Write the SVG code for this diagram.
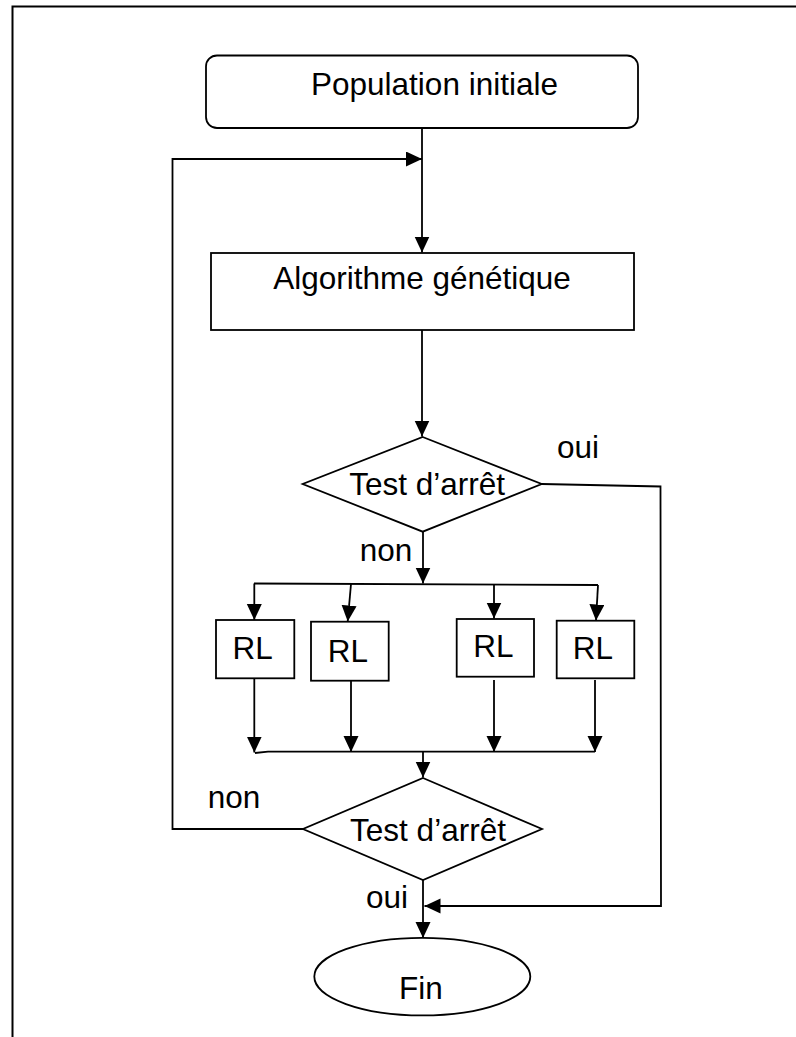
<svg xmlns="http://www.w3.org/2000/svg" width="796" height="1037" viewBox="0 0 796 1037">
  <defs>
    <marker id="arrow" markerUnits="userSpaceOnUse" markerWidth="17" markerHeight="16" refX="16" refY="7.5" orient="auto">
      <path d="M0,0 L16,7.5 L0,15 z" fill="#000"/>
    </marker>
    <style>
      .shape { fill: #fff; stroke: #000; stroke-width: 1.8; }
      .edge { fill: none; stroke: #000; stroke-width: 1.8; }
      .frame { fill: none; stroke: #000; stroke-width: 2; }
      .lbl { font-family: "Liberation Sans", Arial, sans-serif; font-size: 31.5px; fill: #000; text-anchor: middle; }
    </style>
  </defs>

  <rect width="796" height="1037" fill="#fff"/>

  <!-- page border (top and left edges) -->
  <path class="frame" d="M12.5,1037 L12.5,6.5 L796,6.5"/>

  <!-- connectors -->
  <g id="connectors">
    <path class="edge" d="M422,128 L422,252.5" marker-end="url(#arrow)"/>
    <path class="edge" d="M422,330 L422,436.5" marker-end="url(#arrow)"/>
    <!-- oui branch of first test -->
    <path class="edge" d="M542,484 L660.5,486.5 L661,906 L424.5,906" marker-end="url(#arrow)"/>
    <!-- non branch of first test -->
    <path class="edge" d="M423,532 L423,583.5" marker-end="url(#arrow)"/>
    <path class="edge" d="M254,583.5 L598,585"/>
    <path class="edge" d="M254.3,583.5 L254.3,620" marker-end="url(#arrow)"/>
    <path class="edge" d="M351,584 L347.7,621.5" marker-end="url(#arrow)"/>
    <path class="edge" d="M494,584.5 L494,618.5" marker-end="url(#arrow)"/>
    <path class="edge" d="M598,585 L596,620.5" marker-end="url(#arrow)"/>
    <!-- outputs of the RL boxes -->
    <path class="edge" d="M254.3,678.5 L254.3,752.5" marker-end="url(#arrow)"/>
    <path class="edge" d="M351,681 L351,752" marker-end="url(#arrow)"/>
    <path class="edge" d="M494,680 L494,752" marker-end="url(#arrow)"/>
    <path class="edge" d="M595,680 L595,752" marker-end="url(#arrow)"/>
    <path class="edge" d="M255,753 L268,751.7 L595,751.7"/>
    <path class="edge" d="M423,751.7 L423,777.5" marker-end="url(#arrow)"/>
    <!-- non loop of second test -->
    <path class="edge" d="M303,829 L172.5,829 L172.5,159 L422,159" marker-end="url(#arrow)"/>
    <!-- oui of second test -->
    <path class="edge" d="M423,880 L423,938" marker-end="url(#arrow)"/>
  </g>

  <g id="population">
    <rect class="shape" x="206" y="55.5" width="432" height="72.5" rx="11" ry="11"/>
    <text class="lbl" x="434.5" y="95">Population initiale</text>
  </g>

  <g id="algorithme">
    <rect class="shape" x="211" y="253" width="423" height="77"/>
    <text class="lbl" x="422" y="289">Algorithme génétique</text>
  </g>

  <g id="test1">
    <polygon class="shape" points="422.7,437 541.7,484 422.7,531.7 302.7,484"/>
    <text class="lbl" x="427.2" y="495">Test d’arrêt</text>
  </g>
  <text class="lbl" x="578" y="458">oui</text>
  <text class="lbl" x="386" y="561">non</text>

  <g id="rl1">
    <rect class="shape" x="216" y="620" width="78.3" height="58.3"/>
    <text class="lbl" x="252.7" y="659">RL</text>
  </g>
  <g id="rl2">
    <rect class="shape" x="311" y="621.7" width="77.7" height="59"/>
    <text class="lbl" x="348" y="661.7">RL</text>
  </g>
  <g id="rl3">
    <rect class="shape" x="456.7" y="619" width="77.3" height="57.7"/>
    <text class="lbl" x="493.3" y="656.7">RL</text>
  </g>
  <g id="rl4">
    <rect class="shape" x="556.7" y="620.7" width="77.6" height="57.6"/>
    <text class="lbl" x="592.8" y="659.3">RL</text>
  </g>

  <g id="test2">
    <polygon class="shape" points="423,778 542,829 423,880 303,829"/>
    <text class="lbl" x="428" y="841.4">Test d’arrêt</text>
  </g>
  <text class="lbl" x="234" y="807.5">non</text>
  <text class="lbl" x="387" y="908.2">oui</text>

  <g id="fin">
    <ellipse class="shape" cx="422.3" cy="976.6" rx="108" ry="38.8"/>
    <text class="lbl" x="421" y="998.6">Fin</text>
  </g>
</svg>
